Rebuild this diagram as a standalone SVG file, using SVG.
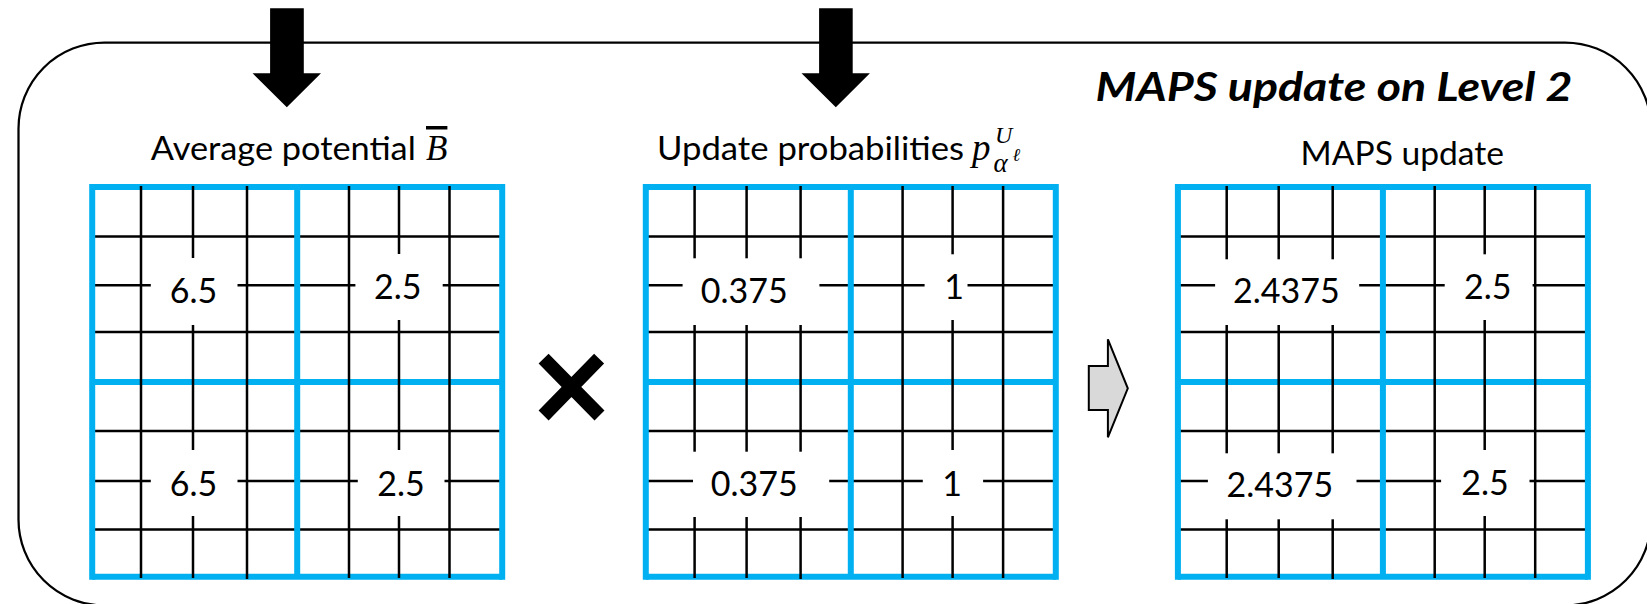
<svg xmlns="http://www.w3.org/2000/svg" xmlns:xlink="http://www.w3.org/1999/xlink" width="1647" height="604" viewBox="0 0 1647 604">
<style>
  .blue{fill:none;stroke:#00B0F0;stroke-width:6}
  .blk{fill:none;stroke:#000;stroke-width:2.5}
  .gap{fill:#fff;stroke:none}
  .lbl{font-family:Lato,"Liberation Sans",sans-serif;font-size:32px;fill:#000}
  .num{font-family:Lato,"Liberation Sans",sans-serif;font-size:34px;fill:#000;text-anchor:middle}
  .math{font-family:"Liberation Serif","DejaVu Serif",serif;font-style:italic;fill:#000}
  .title{font-family:Lato,"Liberation Sans",sans-serif;font-size:40px;font-weight:bold;font-style:italic;fill:#000}
</style>
<defs>
  <g id="gl">
    <path class="blue" d="M92.2 187 H502.2 M92.2 382 H502.2 M92.2 576.7 H502.2"/>
    <path class="blk" d="M141 186 V578 M193 186 V578 M247 186 V579 M349 186 V578 M399 186 V578 M449.5 186 V578 M92 236.5 H502 M92 285.3 H502 M92 332 H502 M92 431 H502 M92 481 H502 M92 529.5 H502"/>
    <path class="blue" d="M92.2 184 V579.7 M297.2 187 V576.7 M502.2 184 V579.7"/>
  </g>
</defs>
<rect id="frame" x="18.5" y="42.5" width="1632.5" height="563" rx="86" ry="86" fill="none" stroke="#000" stroke-width="2.25"/>
<text id="title" class="title" x="1095.6" y="100.5" textLength="477" lengthAdjust="spacingAndGlyphs">MAPS update on Level 2</text>

<g id="node-average">
  <text class="lbl" x="150.8" y="160" textLength="265" lengthAdjust="spacingAndGlyphs">Average potential</text>
  <text class="math" x="426" y="160" font-size="35" text-decoration="overline">B</text>
  <use xlink:href="#gl" href="#gl"/>
  <rect class="gap" x="150.8" y="258" width="86.7" height="67"/>
  <rect class="gap" x="355.4" y="254" width="87.3" height="66"/>
  <rect class="gap" x="150.8" y="450" width="86.7" height="66"/>
  <rect class="gap" x="357.8" y="450" width="86.7" height="66"/>
  <text class="num" x="193.5" y="303.3">6.5</text>
  <text class="num" x="397.8" y="299.3">2.5</text>
  <text class="num" x="193.5" y="495.7">6.5</text>
  <text class="num" x="401.1" y="495.7">2.5</text>
</g>

<g id="node-multiply">
  <path d="M543.6 358.7 L599.5 415.5 M599.1 358.7 L543.6 415.5" fill="none" stroke="#000" stroke-width="14" stroke-linecap="butt"/>
</g>

<g id="node-probabilities">
  <text class="lbl" x="657" y="160" textLength="307" lengthAdjust="spacingAndGlyphs">Update probabilities</text>
  <text class="math" x="972" y="160" font-size="37">p</text>
  <text class="math" x="995" y="143" font-size="24">U</text>
  <text class="math" x="993.5" y="172" font-size="27">α</text>
  <text class="math" x="1012.5" y="161" font-size="18">ℓ</text>
  <use xlink:href="#gl" href="#gl" x="553.6"/>
  <rect class="gap" x="682.6" y="258.3" width="136.8" height="66.7"/>
  <rect class="gap" x="924.6" y="254.3" width="42.9" height="65.7"/>
  <rect class="gap" x="693" y="451.7" width="136.2" height="65.3"/>
  <rect class="gap" x="922.8" y="450" width="60.3" height="66"/>
  <text class="num" x="744.2" y="303.3">0.375</text>
  <text class="num" x="954" y="299.3">1</text>
  <text class="num" x="754.3" y="495.7">0.375</text>
  <text class="num" x="952.2" y="495.7">1</text>
</g>

<g id="node-maps">
  <text class="lbl" x="1300.6" y="165" textLength="203.4" lengthAdjust="spacingAndGlyphs">MAPS update</text>
  <use xlink:href="#gl" href="#gl" x="1085.7"/>
  <rect class="gap" x="1215.1" y="259.3" width="144.1" height="65.7"/>
  <rect class="gap" x="1444.7" y="254.3" width="87.9" height="65.7"/>
  <rect class="gap" x="1207.9" y="453.3" width="148.6" height="66"/>
  <rect class="gap" x="1441.1" y="450" width="88.4" height="66"/>
  <text class="num" x="1286.4" y="303.3">2.4375</text>
  <text class="num" x="1487.8" y="299.3">2.5</text>
  <text class="num" x="1279.8" y="496.7">2.4375</text>
  <text class="num" x="1485" y="495">2.5</text>
</g>

<g id="connectors">
  <polygon points="270.1,8.3 303.8,8.3 303.8,73.3 321,73.3 286.8,107.3 252.6,73.3 270.1,73.3" fill="#000"/>
  <polygon points="819.1,8.3 852.7,8.3 852.7,73.3 869.9,73.3 835.8,107.3 801.5,73.3 819.1,73.3" fill="#000"/>
  <polygon points="1088.8,366 1107.9,366 1107.9,339.3 1127.8,388.3 1107.9,437.3 1107.9,410 1088.8,410" fill="#D9D9D9" stroke="#000" stroke-width="2" stroke-linejoin="miter"/>
</g>
</svg>
